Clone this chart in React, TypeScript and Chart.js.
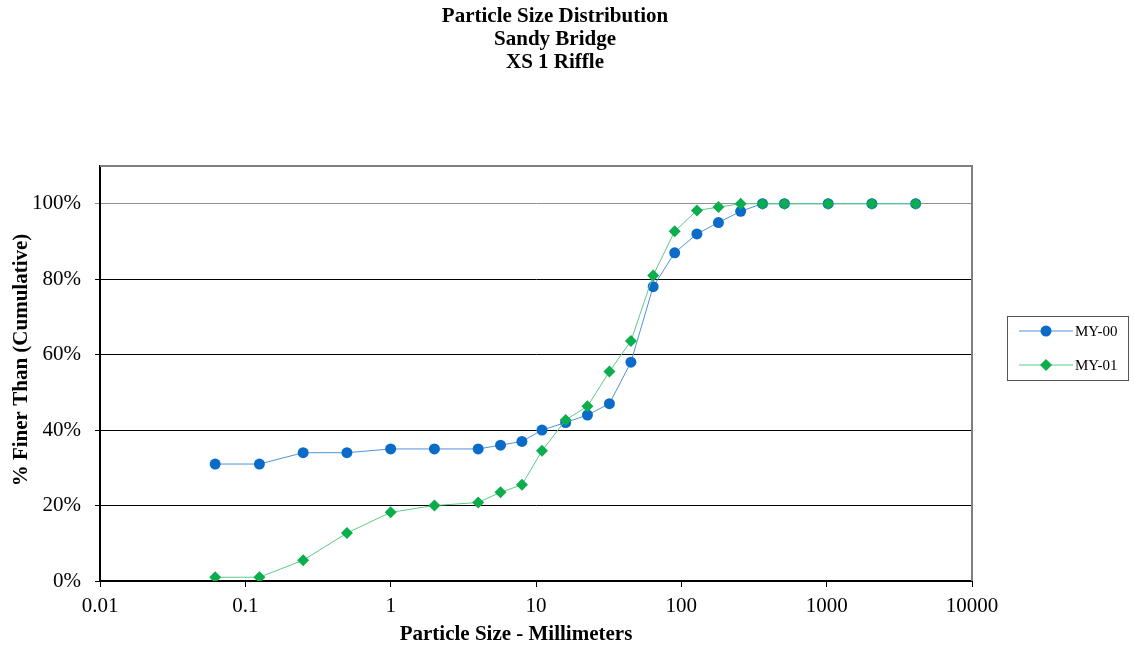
import React, { useEffect, useRef } from "react";
import { Chart, registerables } from "chart.js";

Chart.register(...registerables);

const sizesMm = [0.062, 0.125, 0.25, 0.5, 1, 2, 4, 5.7, 8, 11, 16, 22.6, 32, 45, 64, 90, 128, 180, 256, 362, 512, 1024, 2048, 4096];
const my00 = [31, 31, 34, 34, 35, 35, 35, 36, 37, 40, 42, 44, 47, 58, 78, 87, 92, 95, 98, 100, 100, 100, 100, 100];
const my01 = [1, 1, 5.5, 12.7, 18.2, 20, 20.8, 23.5, 25.5, 34.5, 42.7, 46.3, 55.5, 63.6, 81, 92.7, 98.2, 99.1, 100, 100, 100, 100, 100, 100];
const xTicks = [0.01, 0.1, 1, 10, 100, 1000, 10000];
const yTicks = [0, 20, 40, 60, 80, 100];
const titleLines = ["Particle Size Distribution", "Sandy Bridge", "XS 1 Riffle"];
const xTitle = "Particle Size - Millimeters";
const yTitle = "% Finer Than (Cumulative)";
const seriesNames = ["MY-00", "MY-01"];

const SERIF = "'Liberation Serif', 'Times New Roman', serif";

const decorPlugin = {
  id: "decor",
  afterDraw(chart: any) {
    const ctx = chart.ctx;
    const a = chart.chartArea;
    ctx.save();
    // top/right frame
    ctx.strokeStyle = "#808080";
    ctx.lineWidth = 2;
    ctx.beginPath();
    ctx.moveTo(a.left, a.top);
    ctx.lineTo(a.right, a.top);
    ctx.lineTo(a.right, a.bottom);
    ctx.stroke();
    // titles
    ctx.fillStyle = "#000";
    ctx.textAlign = "center";
    ctx.textBaseline = "middle";
    ctx.font = `bold 21px ${SERIF}`;
    titleLines.forEach((t, i) => ctx.fillText(t, 555, 17 + i * 23));
    ctx.fillText(xTitle, 516, 635);
    ctx.save();
    ctx.translate(22, 360);
    ctx.rotate(-Math.PI / 2);
    ctx.fillText(yTitle, 0, 0);
    ctx.restore();
    // legend
    const bx = 1007, by = 316, bw = 121, bh = 64;
    ctx.strokeStyle = "#555";
    ctx.lineWidth = 1;
    ctx.strokeRect(bx + 0.5, by + 0.5, bw, bh);
    chart.data.datasets.forEach((ds: any, i: number) => {
      const y = by + 15 + i * 34;
      ctx.strokeStyle = ds.borderColor;
      ctx.lineWidth = 1;
      ctx.beginPath();
      ctx.moveTo(bx + 12, y);
      ctx.lineTo(bx + 66, y);
      ctx.stroke();
      ctx.fillStyle = ds.pointBackgroundColor;
      ctx.beginPath();
      if (ds.pointStyle === "rectRot") {
        const r = 6;
        const cx = bx + 39;
        ctx.moveTo(cx, y - r);
        ctx.lineTo(cx + r, y);
        ctx.lineTo(cx, y + r);
        ctx.lineTo(cx - r, y);
        ctx.closePath();
      } else {
        ctx.arc(bx + 39, y, 5.5, 0, Math.PI * 2);
      }
      ctx.fill();
      ctx.fillStyle = "#000";
      ctx.textAlign = "left";
      ctx.font = `15px ${SERIF}`;
      ctx.fillText(seriesNames[i], bx + 68, y + 1);
    });
    ctx.restore();
  },
};

export default function App() {
  const ref = useRef<HTMLCanvasElement>(null);
  useEffect(() => {
    const chart = new Chart(ref.current!, {
      type: "line",
      data: {
        datasets: [
          {
            label: seriesNames[0],
            data: sizesMm.map((x, i) => ({ x, y: my00[i] })),
            borderColor: "#4f93d8",
            borderWidth: 1,
            pointBackgroundColor: "#0a6cc8",
            pointBorderColor: "#0a6cc8",
            pointStyle: "circle",
            pointRadius: 5.5,
            pointBorderWidth: 0,
            order: 2,
          },
          {
            label: seriesNames[1],
            data: sizesMm.map((x, i) => ({ x, y: my01[i] })),
            borderColor: "#5ccb88",
            borderWidth: 1,
            pointBackgroundColor: "#0cad4c",
            pointBorderColor: "#0cad4c",
            pointStyle: "rectRot",
            pointRadius: 6,
            pointBorderWidth: 0,
            order: 1,
          },
        ],
      },
      options: {
        animation: false,
        responsive: false,
        maintainAspectRatio: false,
        layout: { padding: { top: 166, right: 162, left: 0, bottom: 0 } },
        plugins: { legend: { display: false }, tooltip: { enabled: false }, title: { display: false } },
        scales: {
          x: {
            type: "logarithmic",
            min: 0.01,
            max: 10000,
            afterBuildTicks: (s: any) => {
              s.ticks = xTicks.map((v) => ({ value: v }));
            },
            afterFit: (s: any) => {
              s.height = 69;
            },
            ticks: {
              color: "#000",
              font: { family: SERIF, size: 21 },
              padding: 7,
              maxRotation: 0,
              autoSkip: false,
              callback: (v: any) => String(Number(v)),
            },
            grid: { drawOnChartArea: false, drawTicks: true, tickLength: 6, color: "#000" },
            border: { color: "#000", width: 2 },
          },
          y: {
            min: 0,
            max: 110,
            afterBuildTicks: (s: any) => {
              s.ticks = yTicks.map((v) => ({ value: v }));
            },
            afterFit: (s: any) => {
              s.width = 100;
            },
            ticks: {
              color: "#000",
              font: { family: SERIF, size: 21 },
              padding: 14,
              callback: (v: any) => v + "%",
            },
            grid: {
              color: (c: any) => (c.tick && c.tick.value === 100 ? "#909090" : "#000"),
              lineWidth: 1,
              tickLength: 5,
            },
            border: { color: "#000", width: 2 },
          },
        },
      },
      plugins: [decorPlugin],
    } as any);
    return () => chart.destroy();
  }, []);
  return (
    <div style={{ position: "absolute", left: 0, top: 0, width: 1134, height: 650, background: "#fff" }}>
      <canvas ref={ref} width={1134} height={650} style={{ width: 1134, height: 650 }} />
    </div>
  );
}
